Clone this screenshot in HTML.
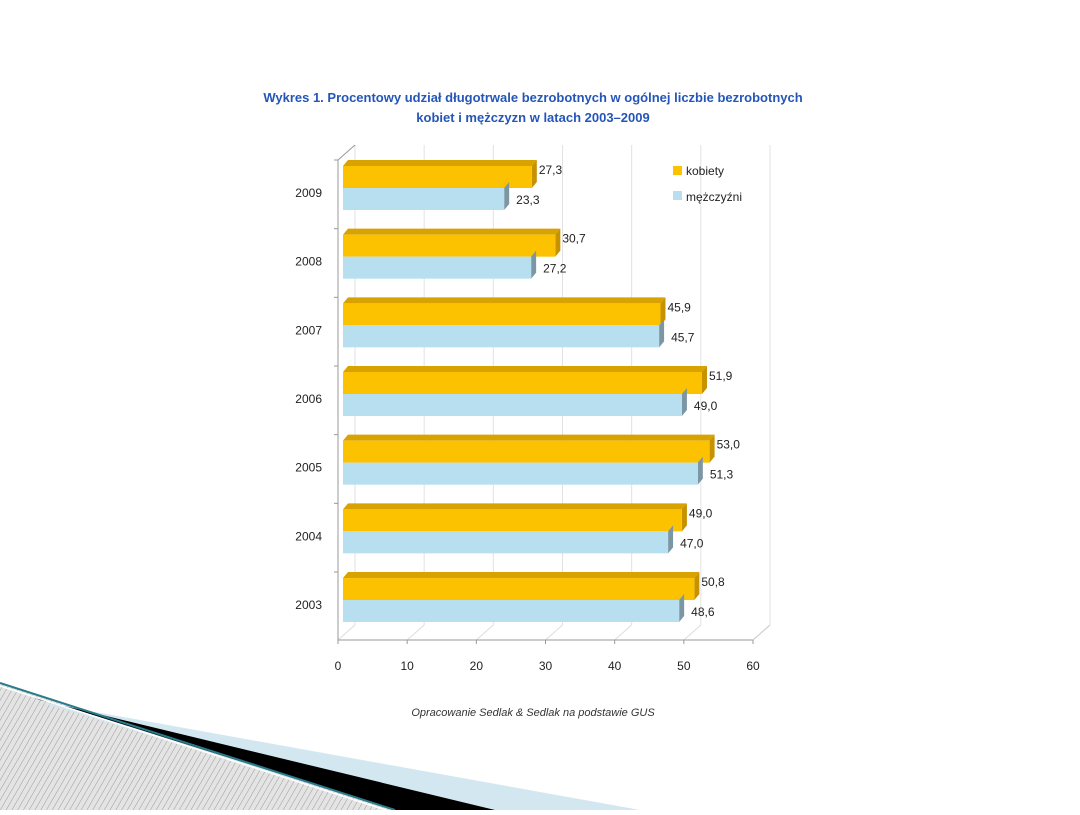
<!DOCTYPE html>
<html><head><meta charset="utf-8"><style>
body{margin:0;background:#fff;}
svg text{font-family:"Liberation Sans",Arial,sans-serif;}
</style></head><body>
<svg width="1080" height="810" viewBox="0 0 1080 810">
<defs>
<pattern id="hatch" width="5" height="5" patternUnits="userSpaceOnUse" patternTransform="rotate(30)">
<rect width="5" height="5" fill="#e4e4e4"/><line x1="0" y1="0" x2="0" y2="5" stroke="#9a9a9a" stroke-width="1"/>
</pattern>
</defs>
<g>
<polygon points="0,683 395,810 0,810" fill="url(#hatch)"/>
<polygon points="40,702 640,810 395,810" fill="#d3e7f0"/>
<polygon points="40,700 495,810 395,810 20,692" fill="#000"/>
<line x1="0" y1="683" x2="395" y2="810" stroke="#2a7a8a" stroke-width="2"/>
<line x1="0" y1="686" x2="392" y2="812" stroke="#fff" stroke-width="1.5"/>
</g>
<text x="533" y="102" text-anchor="middle" font-size="13" font-weight="bold" fill="#2456b8">Wykres 1. Procentowy udział długotrwale bezrobotnych w ogólnej liczbie bezrobotnych</text>
<text x="533" y="122" text-anchor="middle" font-size="13" font-weight="bold" fill="#2456b8">kobiet i mężczyzn w latach 2003–2009</text>
<g id="chart"></g>
<text x="533" y="716" text-anchor="middle" font-size="11" font-style="italic" fill="#333">Opracowanie Sedlak &amp; Sedlak na podstawie GUS</text>
</svg>
<script>
const years=["2009","2008","2007","2006","2005","2004","2003"];
const women=[27.3,30.7,45.9,51.9,53.0,49.0,50.8];
const men=[23.3,27.2,45.7,49.0,51.3,47.0,48.6];
const ticks=[0,10,20,30,40,50,60];
const fmt=v=>v.toFixed(1).replace('.',',');
const NS="http://www.w3.org/2000/svg";
const g=document.getElementById('chart');
function mk(t,a,p){const e=document.createElementNS(NS,t);for(const k in a)e.setAttribute(k,a[k]);(p||g).appendChild(e);return e;}
const x0=338,x1=753,dx=17,dy=-15,yBot=640,yTop=160;
const X=v=>x0+(x1-x0)*v/60;
const bx=v=>5+X(v);
const groupY=i=>166+i*68.67;
// axes & grid
for(const t of ticks){
 const gl=mk('line',{x1:X(t)+dx,y1:yTop+dy,x2:X(t)+dx,y2:yBot+dy,stroke:'#e2e2e2','stroke-width':1});
 
 const fl=mk('line',{x1:X(t),y1:yBot,x2:X(t)+dx,y2:yBot+dy,stroke:'#ddd','stroke-width':1});
 
 const tk=mk('line',{x1:X(t),y1:yBot,x2:X(t),y2:yBot+4,stroke:'#999'});
 
 const tl=mk('text',{x:X(t),y:670,'text-anchor':'middle','font-size':12,fill:'#222'});
 tl.textContent=t;
 
}
const ax=mk('line',{x1:x0,y1:yTop,x2:x0,y2:yBot,stroke:'#999'});

const ax2=mk('line',{x1:x0,y1:yTop,x2:x0+dx,y2:yTop+dy,stroke:'#999'});

const xa=mk('line',{x1:x0,y1:yBot,x2:x1,y2:yBot,stroke:'#999'});

const xa2=mk('line',{x1:x1,y1:yBot,x2:x1+dx,y2:yBot+dy,stroke:'#ccc'});

function bar(v,y,h,front,side,top,name){
 const e=bx(v),s=bx(0),d=5;
 if(top){const t=mk('polygon',{points:`${s},${y} ${s+d},${y-6} ${e+d},${y-6} ${e},${y}`,fill:top});
  }
 const sd=mk('polygon',{points:`${e},${y} ${e+d},${y-6} ${e+d},${y+h-6} ${e},${y+h}`,fill:side});
 
 const f=mk('rect',{x:s,y:y,width:e-s,height:h,fill:front});
 
}
years.forEach((yr,i)=>{
 const y=groupY(i);
 const tk=mk('line',{x1:x0-4,y1:y-6,x2:x0,y2:y-6,stroke:'#999'});
 
 bar(women[i],y,22,'#fcc200','#c79200','#d8a200','bar-women-'+yr);
 bar(men[i],y+22,22,'#b7dff0','#7c96a4',null,'bar-men-'+yr);
 const l1=mk('text',{x:bx(women[i])+7,y:y+8,'font-size':12,fill:'#222'});
 l1.textContent=fmt(women[i]);
 
 const l2=mk('text',{x:bx(men[i])+12,y:y+38,'font-size':12,fill:'#222'});
 l2.textContent=fmt(men[i]);
 
 const yl=mk('text',{x:322,y:y+31,'text-anchor':'end','font-size':12,fill:'#222'});
 yl.textContent=yr;
 
});
const lg=mk('g',{});

const r1=mk('rect',{x:673,y:166,width:9,height:9,fill:'#fcc200'},lg);

const t1=mk('text',{x:686,y:175,'font-size':12,fill:'#222'},lg);t1.textContent='kobiety';

const r2=mk('rect',{x:673,y:191,width:9,height:9,fill:'#b7dff0'},lg);

const t2=mk('text',{x:686,y:201,'font-size':12,fill:'#222'},lg);t2.textContent='mężczyźni';

</script>
</body></html>
